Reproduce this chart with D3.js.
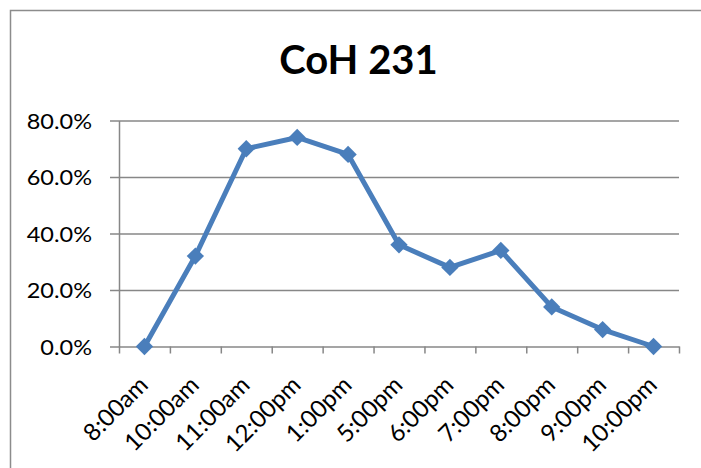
<!DOCTYPE html>
<html>
<head>
<meta charset="utf-8">
<script src="https://cdn.jsdelivr.net/npm/d3@7"></script>
<style>
  body { margin: 0; background: #fff; }
  svg { display: block; }
</style>
</head>
<body>
<div id="chart"></div>
<script>
// chart data
const categories = ["8:00am", "10:00am", "11:00am", "12:00pm", "1:00pm", "5:00pm",
                    "6:00pm", "7:00pm", "8:00pm", "9:00pm", "10:00pm"];
const values = [0, 32, 70, 74, 68, 36, 28, 34, 14, 6, 0];
const yTicks = [0, 20, 40, 60, 80];
const title = "CoH 231";

const width = 701;
const height = 468;
const plot = {left: 119, right: 679, top: 120.5, bottom: 346.5};
const gray = "#878787";
const blue = "#4a7ebb";
const labelFont = "Lato, sans-serif";
// y labels in the source look a little wide, so give them a small x-scale
const stretch = 1.12;

const svg = d3.select("#chart")
  .append("svg")
  .attr("width", width)
  .attr("height", height);

// outer frame (only left and top edges show)
svg.append("rect")
  .attr("x", 10.5).attr("y", 10.5)
  .attr("width", width).attr("height", height)
  .attr("fill", "none")
  .attr("stroke", "#8c8c8c")
  .attr("stroke-width", 1.5);

// title
svg.append("text")
  .attr("x", 358.5).attr("y", 73.5)
  .attr("text-anchor", "middle")
  .style("font-family", "Lato, sans-serif")
  .style("font-weight", "bold")
  .style("font-size", "40px")
  .text(title);

// scales
let xScale = d3.scaleBand()
  .domain(categories)
  .range([plot.left, plot.right])
  .padding(0);

let yScale = d3.scaleLinear()
  .domain([0, 80])
  .range([plot.bottom, plot.top]);

// tick marks sit between categories, so use a plain index scale for them
let xEdge = d3.scaleLinear()
  .domain([0, categories.length])
  .range([plot.left, plot.right]);

// gridlines
svg.append("g")
  .attr("transform", `translate(${plot.left},0)`)
  .call(d3.axisRight(yScale).tickValues(yTicks.slice(1))
          .tickSize(plot.right - plot.left).tickFormat(""))
  .call(g => g.select(".domain").remove())
  .call(g => g.selectAll("line").attr("stroke", gray).attr("stroke-width", 1.5));

// y axis
svg.append("g")
  .attr("transform", `translate(${plot.left},0)`)
  .call(d3.axisLeft(yScale).tickValues(yTicks).tickSize(9).tickSizeOuter(0)
          .tickFormat(d => d.toFixed(1) + "%"))
  .call(g => g.select(".domain").attr("stroke", gray).attr("stroke-width", 1.5))
  .call(g => g.selectAll("line").attr("stroke", gray).attr("stroke-width", 1.5))
  .call(g => g.selectAll("text")
              .attr("x", 0).attr("dy", "0.36em")
              .attr("transform", `translate(-27,0) scale(${stretch},1)`)
              .style("font-family", labelFont)
              .style("font-size", "21px")
              .style("fill", "#000"));

// x axis line and tick marks
svg.append("g")
  .attr("transform", `translate(0,${plot.bottom})`)
  .call(d3.axisBottom(xEdge).tickValues(d3.range(categories.length + 1))
          .tickSize(7).tickSizeOuter(0).tickFormat(""))
  .call(g => g.select(".domain").attr("stroke", gray).attr("stroke-width", 1.5))
  .call(g => g.selectAll("line").attr("stroke", gray).attr("stroke-width", 1.5));

// x labels, rotated 45 degrees
svg.append("g")
  .attr("transform", `translate(0,${plot.bottom})`)
  .call(d3.axisBottom(xScale).tickSize(0))
  .call(g => g.select(".domain").remove())
  .call(g => g.selectAll("text")
              .attr("x", 0).attr("y", 0).attr("dy", 0)
              .attr("text-anchor", "end")
              .attr("transform", "translate(5,40) rotate(-45)")
              .style("font-family", labelFont)
              .style("font-size", "24px")
              .style("fill", "#000"));

// line
const line = d3.line()
  .x((d, i) => xScale(categories[i]) + xScale.bandwidth() / 2)
  .y(d => yScale(d));

svg.append("path")
  .datum(values)
  .attr("d", line)
  .attr("fill", "none")
  .attr("stroke", blue)
  .attr("stroke-width", 5)
  .attr("stroke-linejoin", "round");

// diamond markers
svg.selectAll(".marker")
  .data(values)
  .enter()
  .append("path")
    .attr("class", "marker")
    .attr("d", d3.symbol(d3.symbolSquare, 150))
    .attr("transform", (d, i) =>
      `translate(${xScale(categories[i]) + xScale.bandwidth() / 2},${yScale(d)}) rotate(45)`)
    .attr("fill", blue);
</script>
</body>
</html>
